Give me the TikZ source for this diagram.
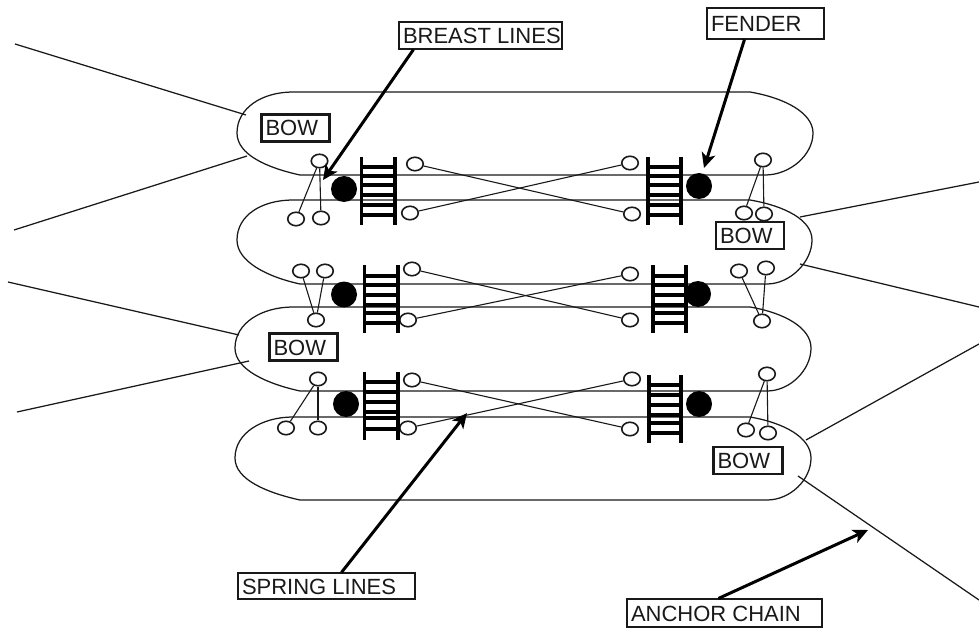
\documentclass[tikz,border=0pt]{standalone}
\usepackage{fontspec}
\setmainfont{Liberation Sans}
\usetikzlibrary{shapes.geometric,arrows.meta}
\definecolor{ink}{gray}{0.1}
\tikzset{
  hull/.style={draw=ink,line width=1.25pt},
  rope/.style={draw=ink,line width=1.25pt},
  tie/.style={draw=ink,line width=1.1pt},
  bollard/.style={ellipse,draw=ink,line width=1.6pt,fill=white,minimum width=16.5pt,minimum height=13.5pt,inner sep=0pt},
  fender/.style={circle,fill=black,minimum size=26pt,inner sep=0pt},
  rail/.style={draw=black,line width=3.5pt},
  rung/.style={draw=black,line width=3.1pt},
  lab/.style={draw=ink,line width=1.1pt,fill=white,inner xsep=4pt,inner ysep=0pt,text height=16pt,text depth=0pt,font=\fontsize{22pt}{24pt}\selectfont,text=ink},
  bowlab/.style={lab,line width=2.2pt,minimum height=27pt},
  pointer/.style={draw=black,line width=3pt,-{Stealth[length=15pt,width=14pt,inset=4pt]},shorten >=0pt}
}
\newcommand{\hullshape}[6]{% xl, xr, top, bot, mid, xbr
  \draw[hull] (#6,#4) -- (300,#4) .. controls (268,#4-7) and (#1,#5+22) .. (#1,#5)
    .. controls (#1,#5-25) and (262,#3) .. (293,#3) -- (750,#3)
    .. controls (785,#3+6) and (#2,#5-20) .. (#2,#5)
    .. controls (#2,#5+22) and (790,#4) .. (#6,#4);
}
\newcommand{\ladderpair}[5]{% xl, xr, ytop, ybot, rungs
  \foreach \ry in {#5} {\draw[rung] (#1,\ry) -- (#2,\ry);}
  \draw[rail] (#1,#3) -- (#1,#4);
  \draw[rail] (#2,#3) -- (#2,#4);
}
\begin{document}
\begin{tikzpicture}[x=1pt,y=-1pt]
\useasboundingbox (0,0) rectangle (979,628);

% hulls
\hullshape{237}{813}{92}{175}{133}{765}
\hullshape{237}{812}{200}{284}{240}{767}
\hullshape{235}{811}{307}{391}{348}{767}
\hullshape{235}{811}{417}{500}{458}{767}

% free ends of the mooring lines
\coordinate (ma1) at (15,44);    \coordinate (mb1) at (246,115);
\coordinate (ma2) at (14,230);   \coordinate (mb2) at (247,156);
\coordinate (ma3) at (8,282);    \coordinate (mb3) at (239,335);
\coordinate (ma4) at (17,412);   \coordinate (mb4) at (249,361);
\coordinate (ma5) at (979,182);  \coordinate (mb5) at (800,217);
\coordinate (ma6) at (979,307);  \coordinate (mb6) at (800,264);
\coordinate (ma7) at (979,344);  \coordinate (mb7) at (806,440);
\coordinate (ma8) at (979,600);  \coordinate (mb8) at (798,476);
\foreach \i in {1,...,8} {\draw[rope] (ma\i) -- (mb\i);}

% bollards, row 1
\node[bollard] (a1) at (319.5,161) {};
\node[bollard] (a2) at (296,219) {};
\node[bollard] (a3) at (321,218) {};
\node[bollard] (a4) at (415,164) {};
\node[bollard] (a5) at (410,213) {};
\node[bollard] (a6) at (630,163) {};
\node[bollard] (a7) at (632,214) {};
\node[bollard] (a8) at (763,160) {};
\node[bollard] (a9) at (744,213) {};
\node[bollard] (a10) at (764,214) {};
% row 2
\node[bollard] (b1) at (316,320) {};
\node[bollard] (b2) at (301,271) {};
\node[bollard] (b3) at (325,271) {};
\node[bollard] (b4) at (412,269) {};
\node[bollard] (b5) at (408,320) {};
\node[bollard] (b6) at (630,274) {};
\node[bollard] (b7) at (630,320) {};
\node[bollard] (b8) at (762,321) {};
\node[bollard] (b9) at (739,271) {};
\node[bollard] (b10) at (766,268) {};
% row 3
\node[bollard] (c1) at (318,379) {};
\node[bollard] (c2) at (286,428) {};
\node[bollard] (c3) at (318,428) {};
\node[bollard] (c4) at (412,380) {};
\node[bollard] (c5) at (408,428) {};
\node[bollard] (c6) at (632,379) {};
\node[bollard] (c7) at (630,429) {};
\node[bollard] (c8) at (767,374) {};
\node[bollard] (c9) at (746,430) {};
\node[bollard] (c10) at (768,433) {};

% lines between bollards
\foreach \r in {a,b,c} {
  \draw[tie] (\r1) -- (\r2);
  \draw[tie] (\r1) -- (\r3);
  \draw[tie] (\r4) -- (\r7);
  \draw[tie] (\r5) -- (\r6);
  \draw[tie] (\r8) -- (\r9);
  \draw[tie] (\r8) -- (\r10);
}

% ladders
\ladderpair{361.5}{395}{157}{225}{167,176,185,195,205,215}
\ladderpair{648}{681}{157}{225}{167,176,185,195,205,215}
\ladderpair{364.5}{398}{265}{333}{276,285,295,305,313,323}
\ladderpair{653}{686}{265}{333}{276,285,295,305,313,323}
\ladderpair{364.5}{398}{372}{440}{382,392,402,412,418,429}
\ladderpair{649}{681}{375}{443}{385,395,405,415,423,433}

% fenders
\node[fender] (f1) at (344,189) {};
\node[fender] (f2) at (699,186) {};
\node[fender] (f3) at (344,294.5) {};
\node[fender] (f4) at (698,294) {};
\node[fender] (f5) at (346,404) {};
\node[fender] (f6) at (699,404) {};

% labels
\node[bowlab] (bow1) at (295.5,128) {\makebox[60pt][l]{BOW}};
\node[bowlab] (bow2) at (750,235.5) {\makebox[60pt][l]{BOW}};
\node[bowlab] (bow3) at (303.5,347) {\makebox[60pt][l]{BOW}};
\node[bowlab] (bow4) at (748,460.5) {\makebox[61pt][l]{BOW}};
\node[lab,minimum height=27pt] (bl) at (480.5,35.5) {\makebox[155pt][l]{BREAST LINES}};
\node[lab,minimum height=31pt] (fd) at (765.5,23.5) {\makebox[109pt][l]{FENDER}};
\node[lab,minimum height=26pt] (sl) at (326.5,586) {\makebox[169pt][l]{SPRING LINES}};
\node[lab,minimum height=28pt] (ac) at (724.5,613) {\makebox[187pt][l]{ANCHOR CHAIN}};

% pointers
\coordinate (pbl) at (323,180);
\coordinate (pfd) at (704,168);
\coordinate (psl) at (467,413);
\coordinate (pac) at (868,530);
\draw[pointer] ([xshift=15pt]bl.south west) -- (pbl);
\draw[pointer] ([xshift=38pt]fd.south west) -- (pfd);
\draw[pointer] ([xshift=104pt]sl.north west) -- (psl);
\draw[pointer] ([xshift=92pt]ac.north west) -- (pac);
\end{tikzpicture}
\end{document}
